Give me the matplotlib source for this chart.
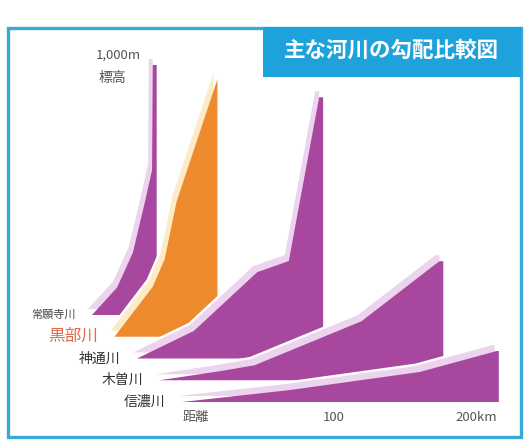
import matplotlib
matplotlib.use('Agg')
import matplotlib.pyplot as plt
from matplotlib.patches import Polygon, Rectangle

plt.rcParams['font.family'] = ['Noto Sans CJK JP', 'DejaVu Sans']

# 河川（奥から手前の順）
rivers = ['常願寺川', '黒部川', '神通川', '木曽川', '信濃川']

# 河口からの距離 (km) と標高 (m)
joganji_km = [0, 19, 31, 40, 45.5, 46, 49]
joganji_m = [0, 110, 250, 450, 580, 1000, 1000]
kurobe_km = [0, 29, 38, 47, 78]
kurobe_m = [0, 200, 310, 540, 1030]
jinzu_km = [0, 43, 91, 115, 138, 141]
jinzu_m = [0, 110, 345, 390, 1045, 1045]
kiso_km = [0, 45.5, 72, 153, 212, 215]
kiso_m = [0, 36, 60, 236, 476, 476]
shinano_km = [0, 82, 180, 238.5, 240]
shinano_m = [0, 48, 120, 204, 204]

profiles_km = [joganji_km, kurobe_km, jinzu_km, kiso_km, shinano_km]
profiles_m = [joganji_m, kurobe_m, jinzu_m, kiso_m, shinano_m]

dist_ticks = [0, 100, 200]
dist_labels = ['距離', '100', '200km']

PURPLE, LILAC = '#a8479e', '#ecd4ee'
ORANGE, CREAM = '#ee8a2e', '#fcebc6'
colors = [PURPLE, ORANGE, PURPLE, PURPLE, PURPLE]
edges = [LILAC, CREAM, LILAC, LILAC, LILAC]
label_colors = ['#444444', '#e5684a', '#333333', '#333333', '#333333']
label_sizes = [8, 12, 10, 10, 10]

STEP_KM, STEP_M = 17.05, 87   # 奥行き方向のずれ
EXT_KM, EXT_M = -3.0, 24      # 上側の縁（厚み）

fig = plt.figure(figsize=(5.26, 4.43), dpi=100)
ax = fig.add_axes([0, 0, 1, 1])
ax.set_xlim(-137.9, 260.6)
ax.set_ylim(-164, 1608)
ax.axis('off')

# 外枠とタイトル帯
fig.patches.append(Rectangle((8 / 526, 6 / 443), 513 / 526, 409 / 443,
                             transform=fig.transFigure, fc='none',
                             ec='#3aa8d8', lw=2.4, zorder=0))
fig.patches.append(Rectangle((263 / 526, 366 / 443), 258 / 526, 50 / 443,
                             transform=fig.transFigure, fc='#1ea2dc',
                             ec='none', zorder=1))
fig.text(391 / 526, 393 / 443, '主な河川の勾配比較図', color='white',
         fontsize=15.5, fontweight='bold', ha='center', va='center')

n = len(rivers)
for i in range(n):
    km, m = profiles_km[i], profiles_m[i]
    depth = n - 1 - i
    x0, y0 = -depth * STEP_KM, depth * STEP_M
    pts = [(x0 + k, y0 + v) for k, v in zip(km, m)] + [(x0 + km[-1], y0)]
    shifted = [(x + EXT_KM, y + EXT_M) for x, y in pts]
    # 白いすき間 → 縁 → 本体
    ax.add_patch(Polygon(shifted, fc='white', ec='white', lw=3.5,
                         joinstyle='miter', zorder=3 * i + 1))
    ax.add_patch(Polygon(shifted, fc=edges[i], ec='none', zorder=3 * i + 2))
    ax.add_patch(Polygon(pts, fc=colors[i], ec='none', zorder=3 * i + 3))
    ax.annotate(rivers[i], (x0, y0), xytext=(-12, 0), textcoords='offset points',
                ha='right', va='center', fontsize=label_sizes[i],
                color=label_colors[i], zorder=30)

# 標高の目盛（最奥の川）
top0 = (n - 1) * STEP_M
ax.annotate('1,000m', (-(n - 1) * STEP_KM, top0 + 1000), xytext=(19, 7),
            textcoords='offset points', ha='center', va='center',
            fontsize=9.5, color='#555555', zorder=30)
ax.annotate('標高', (-(n - 1) * STEP_KM, top0 + 1000), xytext=(15, -9),
            textcoords='offset points', ha='center', va='center',
            fontsize=10, color='#555555', zorder=30)

# 距離の目盛（手前の川）
tick_dx = [10, 14, 7]
tick_ha = ['center', 'center', 'left']
for t, lab, dx, ha in zip(dist_ticks, dist_labels, tick_dx, tick_ha):
    ax.annotate(lab, (t, 0), xytext=(dx, -11), textcoords='offset points',
                ha=ha, va='center', fontsize=9.5, color='#555555', zorder=30)

fig.savefig('out.png', dpi=100, facecolor='white')
